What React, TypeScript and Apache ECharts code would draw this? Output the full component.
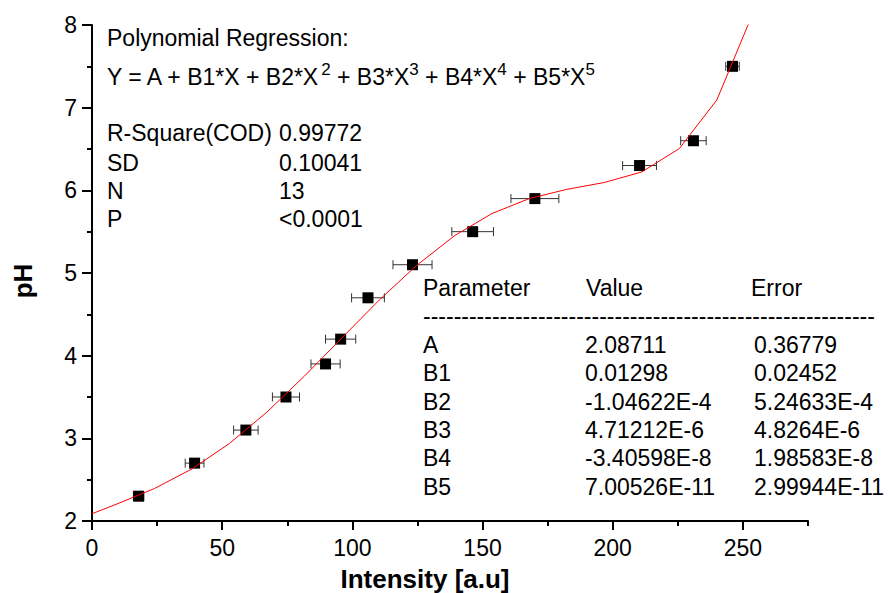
import React, { useEffect, useRef } from 'react';
import * as echarts from 'echarts';

// Measured data points
const intensity = [17.9, 39.4, 59.1, 74.5, 89.7, 95.5, 106.0, 123.1, 146.2, 170.1, 210.3, 231.0, 246.0];
const pH = [2.3, 2.7, 3.1, 3.5, 3.9, 4.2, 4.7, 5.1, 5.5, 5.9, 6.3, 6.6, 7.5];
const intensityErr = [2.0, 3.6, 4.7, 5.2, 5.6, 5.8, 6.3, 7.5, 8.0, 9.2, 6.5, 4.9, 2.6];

// Fitted curve (polyline vertices)
const fitX = [0, 9.6, 24, 38.4, 52.8, 67.2, 81.6, 96, 110.4, 124.8, 139.2, 153.6, 168, 182.4, 196.8, 211.2, 225.6, 240, 254.4];
const fitY = [2.088, 2.206, 2.393, 2.63, 2.938, 3.318, 3.753, 4.216, 4.675, 5.095, 5.45, 5.719, 5.901, 6.012, 6.095, 6.223, 6.506, 7.094, 8.185];

// Axis ticks
const xTicks = [0, 50, 100, 150, 200, 250];
const xMinorTicks = [25, 75, 125, 175, 225, 275];

// Annotation texts
const statLabels = ['R-Square(COD)', 'SD', 'N', 'P'];
const statValues = ['0.99772', '0.10041', '13', '<0.0001'];
const paramNames = ['A', 'B1', 'B2', 'B3', 'B4', 'B5'];
const paramValues = ['2.08711', '0.01298', '-1.04622E-4', '4.71212E-6', '-3.40598E-8', '7.00526E-11'];
const paramErrors = ['0.36779', '0.02452', '5.24633E-4', '4.8264E-6', '1.98583E-8', '2.99944E-11'];

const FONT = '"Liberation Sans", Arial, Helvetica, sans-serif';

export default function App() {
  const ref = useRef<HTMLDivElement>(null);

  useEffect(() => {
    if (!ref.current) return;
    const chart = echarts.init(ref.current, undefined, { renderer: 'svg' });

    const txt = (text: string, x: number, y: number, extra: any = {}) => ({
      type: 'text',
      x,
      y,
      silent: true,
      style: {
        text,
        fontSize: 23,
        fontFamily: FONT,
        fill: '#000',
        align: 'left',
        verticalAlign: 'middle',
        ...extra,
      },
    });

    const graphics: any[] = [];
    graphics.push(txt('Polynomial Regression:', 107, 38));
    graphics.push({
      type: 'text',
      x: 107,
      y: 76.5,
      silent: true,
      style: {
        text: '{m|Y = A + B1*X + B2*X}{s|2}{m| + B3*X}{s|3}{m| + B4*X}{s|4}{m| + B5*X}{s|5}',
        fontFamily: FONT,
        fill: '#000',
        align: 'left',
        verticalAlign: 'middle',
        rich: {
          m: { fontSize: 23, lineHeight: 32, fontFamily: FONT, fill: '#000' },
          s: { fontSize: 17, lineHeight: 15, fontFamily: FONT, fill: '#000', verticalAlign: 'top' },
        },
      },
    });
    const statY = [133, 162.5, 191, 218.5];
    statLabels.forEach((s, i) => {
      graphics.push(txt(s, 107, statY[i]));
      graphics.push(txt(statValues[i], 279, statY[i]));
    });
    const rowPitch = 28.4;
    const tableTop = 288;
    graphics.push(txt('Parameter', 423, tableTop));
    graphics.push(txt('Value', 586, tableTop));
    graphics.push(txt('Error', 751, tableTop));
    graphics.push(txt('-'.repeat(59), 423, tableTop + rowPitch));
    paramNames.forEach((p, i) => {
      const y = tableTop + rowPitch * (i + 2);
      graphics.push(txt(p, 423, y));
      graphics.push(txt(paramValues[i], 585, y));
      graphics.push(txt(paramErrors[i], 754, y));
    });
    graphics.push(
      txt('Intensity [a.u]', 425, 579, { fontSize: 26, fontWeight: 'bold', align: 'center' })
    );
    graphics.push({
      type: 'text',
      x: 23,
      y: 281,
      rotation: Math.PI / 2,
      silent: true,
      style: {
        text: 'pH',
        fontSize: 26,
        fontWeight: 'bold',
        fontFamily: FONT,
        fill: '#000',
        align: 'center',
        verticalAlign: 'middle',
      },
    });

    const axisCommon = {
      type: 'value',
      splitLine: { show: false },
    };

    chart.setOption({
      animation: false,
      backgroundColor: '#fff',
      grid: { left: 92, right: 80, top: 25, bottom: 72, containLabel: false },
      xAxis: [
        {
          ...axisCommon,
          min: 0,
          max: 275,
          position: 'bottom',
          axisLine: { show: true, onZero: false, lineStyle: { color: '#000', width: 2 } },
          axisTick: {
            show: true,
            inside: false,
            length: 9,
            customValues: xTicks,
            lineStyle: { color: '#000', width: 2 },
          },
          axisLabel: {
            show: true,
            customValues: xTicks,
            margin: 15,
            fontSize: 23,
            fontFamily: FONT,
            color: '#000',
          },
        },
        {
          ...axisCommon,
          min: 0,
          max: 275,
          position: 'bottom',
          axisLine: { show: false, onZero: false },
          axisTick: {
            show: true,
            inside: false,
            length: 5,
            customValues: xMinorTicks,
            lineStyle: { color: '#000', width: 2 },
          },
          axisLabel: { show: false },
        },
      ],
      yAxis: {
        ...axisCommon,
        min: 2,
        max: 8,
        interval: 1,
        position: 'left',
        axisLine: { show: true, onZero: false, lineStyle: { color: '#000', width: 2 } },
        axisTick: { show: true, inside: false, length: 10, lineStyle: { color: '#000', width: 2 } },
        minorTick: { show: true, splitNumber: 2, length: 5, lineStyle: { color: '#000', width: 2 } },
        minorSplitLine: { show: false },
        axisLabel: { margin: 15, fontSize: 23, fontFamily: FONT, color: '#000' },
      },
      series: [
        {
          type: 'custom',
          xAxisIndex: 0,
          yAxisIndex: 0,
          z: 2,
          data: intensity.map((x, i) => [x, pH[i], intensityErr[i]]),
          encode: { x: 0, y: 1 },
          renderItem: (params: any, api: any) => {
            const x = api.value(0);
            const y = api.value(1);
            const e = api.value(2);
            const p1 = api.coord([x - e, y]);
            const p2 = api.coord([x + e, y]);
            const c = 4.5;
            const st = { stroke: '#333', lineWidth: 1 };
            return {
              type: 'group',
              children: [
                { type: 'line', shape: { x1: p1[0], y1: p1[1], x2: p2[0], y2: p2[1] }, style: st },
                { type: 'line', shape: { x1: p1[0], y1: p1[1] - c, x2: p1[0], y2: p1[1] + c }, style: st },
                { type: 'line', shape: { x1: p2[0], y1: p2[1] - c, x2: p2[0], y2: p2[1] + c }, style: st },
              ],
            };
          },
        },
        {
          type: 'scatter',
          xAxisIndex: 0,
          yAxisIndex: 0,
          z: 3,
          symbol: 'rect',
          symbolSize: 11,
          itemStyle: { color: '#000', opacity: 1 },
          data: intensity.map((x, i) => [x, pH[i]]),
        },
        {
          type: 'line',
          xAxisIndex: 0,
          yAxisIndex: 0,
          z: 5,
          showSymbol: false,
          symbol: 'none',
          clip: true,
          lineStyle: { color: '#ff0000', width: 1 },
          data: fitX.map((x, i) => [x, fitY[i]]),
        },
      ],
      graphic: graphics,
    });

    return () => chart.dispose();
  }, []);

  return (
    <div
      ref={ref}
      style={{ position: 'absolute', left: 0, top: 0, width: 888, height: 593 }}
    />
  );
}
